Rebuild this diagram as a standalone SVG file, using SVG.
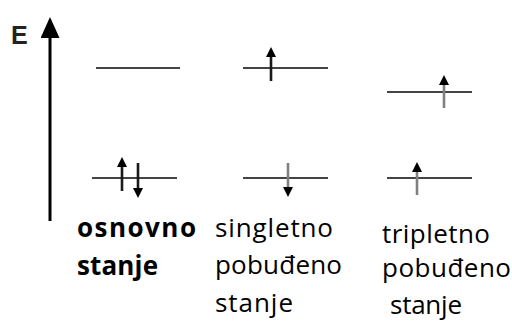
<svg xmlns="http://www.w3.org/2000/svg" width="512" height="323" viewBox="0 0 512 323">
  <defs>
    <style>
      .lvl { stroke: #444; stroke-width: 2.2; fill: none; }
      .spin { stroke: #1a1a1a; stroke-width: 2.6; fill: none; marker-end: url(#head); }
      .spin.g { stroke: #808080; }
      .lbl { font-family: "Open Sans", "Noto Sans", sans-serif; font-size: 26px; fill: #000; }
      .bold { font-weight: bold; }
    </style>
    <marker id="head" viewBox="0 0 10 10" refX="0" refY="5" markerWidth="10" markerHeight="10" markerUnits="userSpaceOnUse" orient="auto">
      <path d="M0,0 L10,5 L0,10 z" fill="#000"/>
    </marker>
    <marker id="axhead" viewBox="0 0 21 19" refX="0" refY="9.5" markerWidth="21" markerHeight="19" markerUnits="userSpaceOnUse" orient="auto">
      <path d="M0,0 L21,9.5 L0,19 z" fill="#000"/>
    </marker>
  </defs>
  <rect width="512" height="323" fill="#fff"/>

  <g id="axis">
    <line x1="50" y1="221" x2="50" y2="38" stroke="#000" stroke-width="3" marker-end="url(#axhead)"/>
    <text x="11" y="44" font-family="Liberation Sans, Arial, sans-serif" font-size="25" font-weight="bold" fill="#222">E</text>
  </g>

  <g id="ground">
    <line class="lvl" x1="96" y1="68" x2="180" y2="68"/>
    <line class="lvl" x1="92" y1="178" x2="177" y2="178"/>
    <line class="spin" x1="122" y1="191" x2="122" y2="167"/>
    <line class="spin" x1="138" y1="163" x2="138" y2="188"/>
    <text class="lbl bold" x="77" y="237" textLength="119" lengthAdjust="spacing">osnovno</text>
    <text class="lbl bold" x="77" y="275" textLength="81" lengthAdjust="spacing">stanje</text>
  </g>

  <g id="singlet">
    <line class="lvl" x1="243" y1="68" x2="328" y2="68"/>
    <line class="lvl" x1="243" y1="178" x2="328" y2="178"/>
    <line class="spin" x1="271" y1="81" x2="271" y2="57"/>
    <line class="spin g" x1="288" y1="163" x2="288" y2="187"/>
    <text class="lbl" x="215" y="237" textLength="118" lengthAdjust="spacing">singletno</text>
    <text class="lbl" x="215" y="274" textLength="127" lengthAdjust="spacing">pobuđeno</text>
    <text class="lbl" x="215" y="312" textLength="78" lengthAdjust="spacing">stanje</text>
  </g>

  <g id="triplet">
    <line class="lvl" x1="387" y1="92" x2="472" y2="92"/>
    <line class="lvl" x1="387" y1="178" x2="472" y2="178"/>
    <line class="spin g" x1="444" y1="108" x2="444" y2="85"/>
    <line class="spin g" x1="417" y1="195" x2="417" y2="172"/>
    <text class="lbl" x="382" y="243" textLength="108" lengthAdjust="spacing">tripletno</text>
    <text class="lbl" x="382" y="277" textLength="129" lengthAdjust="spacing">pobuđeno</text>
    <text class="lbl" x="390" y="314" textLength="72" lengthAdjust="spacing">stanje</text>
  </g>
</svg>
